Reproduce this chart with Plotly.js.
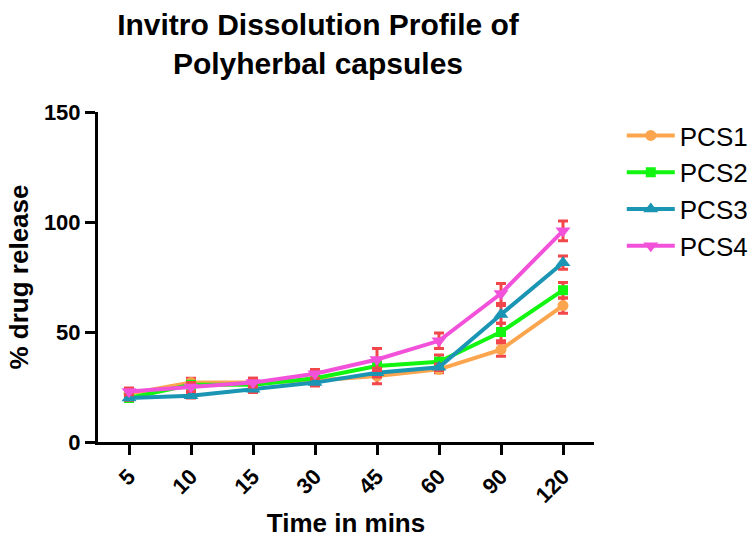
<!DOCTYPE html>
<html>
<head>
<meta charset="utf-8">
<script src="https://cdn.plot.ly/plotly-3.0.1.min.js"></script>
<style>html,body{margin:0;padding:0;background:#fff;}#chart{width:756px;height:538px;}</style>
</head>
<body>
<div id="chart"></div>
<script>
var timePoints = ['5', '10', '15', '30', '45', '60', '90', '120'];
var seriesNames = ['PCS1', 'PCS2', 'PCS3', 'PCS4'];
var pcs1 = [22, 27, 27, 28, 30, 33, 42, 62];
var pcs2 = [20, 26, 26, 29, 34.5, 36.5, 50, 69];
var pcs3 = [20, 21, 24, 27, 31.5, 34, 58, 81.5];
var pcs4 = [23, 25, 27, 31, 37.5, 46, 67.5, 96];
var pcs1Err = [2, 2, 2, 2, 3.5, 1.5, 3, 3.5];
var pcs2Err = [1.5, 1.5, 1.5, 1.5, 2, 3, 4, 3.5];
var pcs3Err = [1, 1, 1.5, 1.5, 2, 1.5, 4, 3];
var pcs4Err = [1.5, 2, 2, 2, 5, 3.5, 4.5, 4.5];

var values = [pcs1, pcs2, pcs3, pcs4];
var errors = [pcs1Err, pcs2Err, pcs3Err, pcs4Err];
var colors = ['#FBA54E', '#11F511', '#1A95B3', '#F252DA'];
var symbols = ['circle', 'square', 'triangle-up', 'triangle-down'];
var sizes = [11, 10, 13, 13];

var font = 'Liberation Sans, Arial, Helvetica, sans-serif';

var traces = seriesNames.map(function (name, i) {
  return {
    type: 'scatter',
    mode: 'lines+markers',
    name: name,
    x: timePoints,
    y: values[i],
    line: {color: colors[i], width: 4},
    marker: {color: colors[i], symbol: symbols[i], size: sizes[i]},
    error_y: {type: 'data', array: errors[i], visible: true, color: '#F2474A', thickness: 3, width: 5}
  };
});

var layout = {
  width: 756,
  height: 538,
  paper_bgcolor: '#ffffff',
  plot_bgcolor: '#ffffff',
  margin: {l: 98, r: 162, t: 112, b: 96, autoexpand: false},
  font: {family: font, color: '#000000'},
  title: {
    text: '<b>Invitro Dissolution Profile of<br>Polyherbal capsules</b>',
    font: {family: font, size: 30, color: '#000000'},
    xref: 'container', x: 318 / 756, xanchor: 'center',
    yref: 'container', y: 1 - 35 / 538, yanchor: 'top'
  },
  xaxis: {
    type: 'category',
    range: [-0.5, 7.5],
    showgrid: false,
    zeroline: false,
    showline: true,
    linecolor: '#000000',
    linewidth: 3,
    ticks: 'outside',
    ticklen: 10,
    tickwidth: 3,
    tickcolor: '#000000',
    tickangle: -45,
    tickfont: {family: font, size: 22, color: '#000000', weight: 'bold'},
    title: {text: '<b>Time in mins</b>', font: {family: font, size: 26, color: '#000000'}, standoff: 25}
  },
  yaxis: {
    range: [0, 150],
    tickvals: [0, 50, 100, 150],
    ticktext: ['0', '50', '100', '150'],
    showgrid: false,
    zeroline: false,
    showline: true,
    linecolor: '#000000',
    linewidth: 3,
    ticks: 'outside',
    ticklen: 10,
    tickwidth: 3,
    tickcolor: '#000000',
    tickfont: {family: font, size: 22, color: '#000000', weight: 'bold'},
    title: {text: '<b>% drug release</b>', font: {family: font, size: 26, color: '#000000'}, standoff: 8}
  },
  legend: {
    x: 1.056, xanchor: 'left',
    y: 1.0, yanchor: 'top',
    font: {family: font, size: 26, color: '#000000'},
    itemwidth: 48,
    bgcolor: 'rgba(0,0,0,0)'
  },
  showlegend: true
};

Plotly.newPlot('chart', traces, layout, {displayModeBar: false, staticPlot: true});
</script>
</body>
</html>
